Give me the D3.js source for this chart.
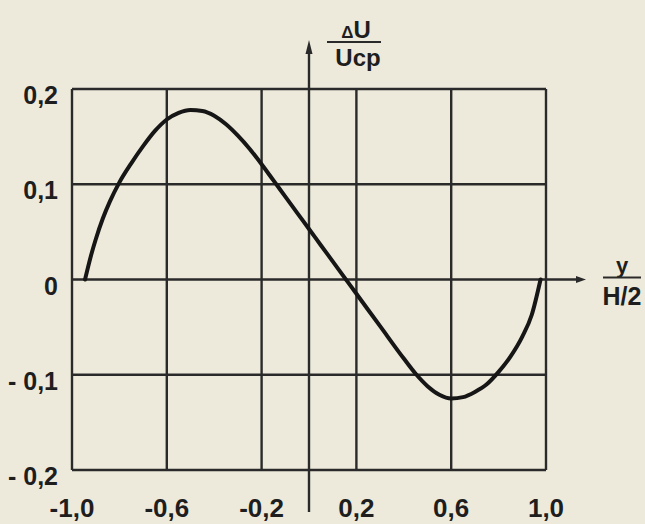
<!DOCTYPE html>
<html>
<head>
<meta charset="utf-8">
<script src="https://cdn.jsdelivr.net/npm/d3@7"></script>
<style>
  html, body { margin: 0; padding: 0; background: #eeeadb; }
  svg { display: block; }
  text { font-family: "Liberation Sans Narrow", "Liberation Sans", sans-serif; fill: #1e1e1e; font-weight: bold; }
</style>
</head>
<body>
<svg id="chart" width="645" height="524"></svg>
<script>
// ---- data ----
const xValues = [-0.945, -0.92, -0.90, -0.87, -0.84, -0.80, -0.75, -0.70, -0.65, -0.60, -0.55, -0.50, -0.45, -0.40, -0.35, -0.30, -0.25, -0.20, -0.15, -0.10, -0.05, 0.0, 0.05, 0.10, 0.15, 0.20, 0.30, 0.40, 0.45, 0.50, 0.55, 0.60, 0.65, 0.70, 0.75, 0.80, 0.85, 0.90, 0.94, 0.977];
const yValues = [0.0, 0.025, 0.042, 0.064, 0.082, 0.102, 0.122, 0.140, 0.156, 0.168, 0.175, 0.178, 0.177, 0.172, 0.163, 0.151, 0.137, 0.121, 0.104, 0.087, 0.070, 0.053, 0.036, 0.019, 0.002, -0.015, -0.049, -0.083, -0.099, -0.112, -0.121, -0.125, -0.1235, -0.118, -0.110, -0.097, -0.081, -0.060, -0.037, 0.0];

const xTicks = [-1.0, -0.6, -0.2, 0.2, 0.6, 1.0];
const xTickLabels = ["-1,0", "-0,6", "-0,2", "0,2", "0,6", "1,0"];
const yTicks = [0.2, 0.1, 0.0, -0.1, -0.2];
const yTickLabels = ["0,2", "0,1", "0", "- 0,1", "- 0,2"];

// ---- layout ----
const svg = d3.select("#chart");
const x = d3.scaleLinear().domain([-1, 1]).range([72, 546]);
const y = d3.scaleLinear().domain([-0.2, 0.2]).range([470, 89]);
const ink = "#2a2a2a";

// paper background
svg.append("rect").attr("width", 645).attr("height", 524).attr("fill", "#eeeadb");

// grid: vertical lines
svg.append("g").selectAll("line").data(xTicks).join("line")
  .attr("x1", d => x(d)).attr("x2", d => x(d))
  .attr("y1", y(0.2)).attr("y2", y(-0.2))
  .attr("stroke", ink).attr("stroke-width", 2.4);

// grid: horizontal lines
svg.append("g").selectAll("line").data(yTicks).join("line")
  .attr("x1", x(-1)).attr("x2", d => d === 0 ? 580 : x(1))
  .attr("y1", d => y(d)).attr("y2", d => y(d))
  .attr("stroke", ink).attr("stroke-width", 2.4);

// x-axis arrow head
svg.append("path")
  .attr("d", `M ${586} ${y(0)} L ${576} ${y(0) - 3.5} L ${576} ${y(0) + 3.5} Z`)
  .attr("fill", ink);

// y axis (x = 0) with arrow
svg.append("line")
  .attr("x1", x(0)).attr("x2", x(0))
  .attr("y1", 512).attr("y2", 50)
  .attr("stroke", ink).attr("stroke-width", 2.4);
svg.append("path")
  .attr("d", `M ${x(0)} 40 L ${x(0) - 3.5} 54 L ${x(0) + 3.5} 54 Z`)
  .attr("fill", ink);

// curve
const pts = xValues.map((v, i) => [v, yValues[i]]);
const line = d3.line().x(d => x(d[0])).y(d => y(d[1])).curve(d3.curveMonotoneX);
svg.append("path").datum(pts)
  .attr("d", line)
  .attr("fill", "none").attr("stroke", "#161616")
  .attr("stroke-width", 4).attr("stroke-linecap", "round").attr("stroke-linejoin", "round");

// x tick labels
svg.append("g").selectAll("text").data(xTicks).join("text")
  .attr("x", d => x(d)).attr("y", 517)
  .attr("text-anchor", "middle").attr("font-size", 26)
  .text((d, i) => xTickLabels[i]);

// y tick labels
svg.append("g").selectAll("text").data(yTicks).join("text")
  .attr("x", 58).attr("y", d => y(d) + 15)
  .attr("text-anchor", "end").attr("font-size", 25)
  .text((d, i) => yTickLabels[i]);

// y axis title: ΔU / Uср
const yt = svg.append("g");
yt.append("text").attr("x", 356).attr("y", 38).attr("text-anchor", "middle").attr("font-size", 24)
  .html('<tspan font-size="17">Δ</tspan>U');
yt.append("line").attr("x1", 327).attr("x2", 381).attr("y1", 42).attr("y2", 42)
  .attr("stroke", ink).attr("stroke-width", 2);
yt.append("text").attr("x", 358).attr("y", 66).attr("text-anchor", "middle").attr("font-size", 24)
  .text("Uср");

// x axis title: y / (H/2)
const xt = svg.append("g");
xt.append("text").attr("x", 622).attr("y", 273).attr("text-anchor", "middle").attr("font-size", 22)
  .text("y");
xt.append("line").attr("x1", 603).attr("x2", 641).attr("y1", 277.5).attr("y2", 277.5)
  .attr("stroke", ink).attr("stroke-width", 2);
xt.append("text").attr("x", 622).attr("y", 305).attr("text-anchor", "middle").attr("font-size", 25)
  .text("H/2");
</script>
</body>
</html>
